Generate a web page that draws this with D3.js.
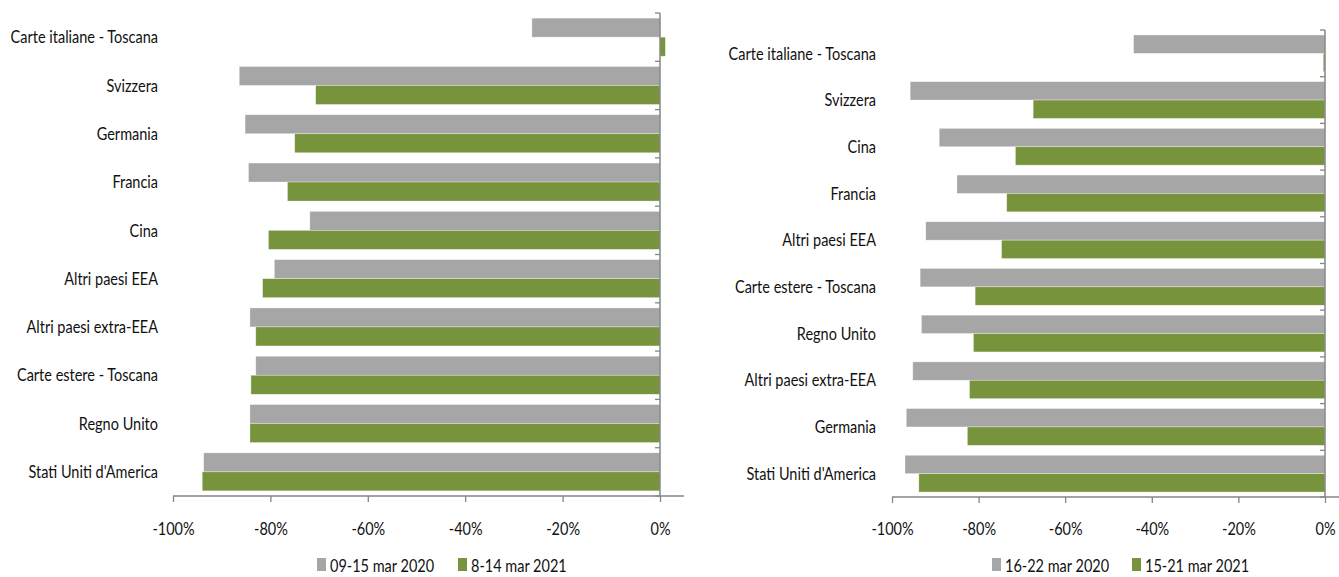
<!DOCTYPE html>
<html>
<head>
<meta charset="utf-8">
<script src="https://cdn.jsdelivr.net/npm/d3@7"></script>
<style>
  html, body { margin: 0; padding: 0; background: #fff; }
  svg { display: block; }
  text { font-family: Lato, "Open Sans", sans-serif; fill: #111; }
</style>
</head>
<body>
<script>
// ---------- DATA ----------
const leftCategories = ["Carte italiane - Toscana", "Svizzera", "Germania", "Francia", "Cina",
  "Altri paesi EEA", "Altri paesi extra-EEA", "Carte estere - Toscana", "Regno Unito", "Stati Uniti d'America"];
const left2020 = [-0.263, -0.864, -0.852, -0.845, -0.719, -0.792, -0.842, -0.830, -0.842, -0.937];
const left2021 = [0.011, -0.707, -0.750, -0.765, -0.804, -0.816, -0.830, -0.840, -0.842, -0.940];
const leftSeriesNames = ["09-15 mar 2020", "8-14 mar 2021"];

const rightCategories = ["Carte italiane - Toscana", "Svizzera", "Cina", "Francia", "Altri paesi EEA",
  "Carte estere - Toscana", "Regno Unito", "Altri paesi extra-EEA", "Germania", "Stati Uniti d'America"];
const right2020 = [-0.442, -0.958, -0.891, -0.850, -0.922, -0.935, -0.932, -0.952, -0.967, -0.970];
const right2021 = [-0.004, -0.674, -0.715, -0.735, -0.747, -0.808, -0.812, -0.821, -0.826, -0.938];
const rightSeriesNames = ["16-22 mar 2020", "15-21 mar 2021"];

const tickValues = [-1, -0.8, -0.6, -0.4, -0.2, 0];
const tickLabels = ["-100%", "-80%", "-60%", "-40%", "-20%", "0%"];

const colors = ["#a6a6a6", "#77933c"];
const axisColor = "#868686";
const FS = 14.5;      // font size
const VS = 1.22;      // vertical stretch of text (reference text is tall & narrow)

const W = 1339, H = 577;
const svg = d3.select("body").append("svg").attr("width", W).attr("height", H);

function panel(cfg) {
  const g = svg.append("g");
  const x = d3.scaleLinear().domain([-1, 0]).range([cfg.x0, cfg.x1]);
  const y = d3.scaleBand().domain(cfg.categories).range([cfg.top, cfg.bottom]).padding(0);
  const ys = d3.scaleBand().domain([0, 1]).range([0, y.bandwidth()]).paddingInner(0).paddingOuter(cfg.pad);
  const series = [cfg.s1, cfg.s2];

  series.forEach((vals, si) => {
    g.append("g").selectAll("rect").data(vals).enter().append("rect")
      .attr("x", d => Math.min(x(d), x(0)))
      .attr("width", d => Math.abs(x(d) - x(0)))
      .attr("y", (d, i) => y(cfg.categories[i]) + ys(si))
      .attr("height", ys.bandwidth())
      .attr("fill", colors[si])
      .attr("stroke", "rgba(255,255,255,0.55)")
      .attr("stroke-width", 0.6);
  });

  // x axis
  const xAxis = d3.axisBottom(x).tickValues(tickValues)
    .tickFormat((d, i) => tickLabels[i]).tickSize(6).tickSizeOuter(0);
  const ax = g.append("g").attr("transform", `translate(0,${cfg.bottom})`).call(xAxis);
  ax.select(".domain").remove();
  ax.selectAll(".tick line").attr("stroke", axisColor).attr("stroke-width", 1.3);
  ax.selectAll(".tick text").attr("y", 0).attr("dy", 0)
    .attr("transform", `translate(0,${cfg.tickLabelY - cfg.bottom}) scale(1,${VS})`)
    .style("font-size", FS + "px").style("font-family", null).attr("fill", "#111");
  g.append("line").attr("x1", x(-1)).attr("x2", x(0) + cfg.extend)
    .attr("y1", cfg.bottom).attr("y2", cfg.bottom)
    .attr("stroke", axisColor).attr("stroke-width", 1.5);

  // vertical axis at zero
  g.append("line").attr("x1", x(0)).attr("x2", x(0))
    .attr("y1", cfg.top).attr("y2", cfg.bottom)
    .attr("stroke", axisColor).attr("stroke-width", 1.5);
  const bounds = cfg.categories.map(c => y(c)).concat([cfg.bottom]);
  g.append("g").selectAll("line").data(bounds).enter().append("line")
    .attr("x1", x(0) - 5).attr("x2", x(0))
    .attr("y1", d => d).attr("y2", d => d)
    .attr("stroke", axisColor).attr("stroke-width", 1.3);

  // category labels
  g.append("g").selectAll("text").data(cfg.categories).enter().append("text")
    .attr("transform", d => `translate(${cfg.labelX},${y(d) + y.bandwidth() / 2}) scale(1,${VS})`)
    .attr("dy", "0.35em").attr("text-anchor", "end")
    .style("font-size", FS + "px").text(d => d);

  // legend
  const lg = g.append("g");
  cfg.legend.forEach((L, i) => {
    lg.append("rect").attr("x", L.x).attr("y", cfg.legendY - 14)
      .attr("width", 9).attr("height", 13).attr("fill", colors[i]);
    lg.append("text")
      .attr("transform", `translate(${L.x + 13},${cfg.legendY}) scale(1,${VS})`)
      .style("font-size", FS + "px").text(cfg.names[i]);
  });
}

panel({
  categories: leftCategories, s1: left2020, s2: left2021, names: leftSeriesNames,
  x0: 173, x1: 660, top: 13, bottom: 496, pad: 0.27, extend: 24, labelX: 158,
  tickLabelY: 535, legendY: 572, legend: [{x: 317}, {x: 458}]
});
panel({
  categories: rightCategories, s1: right2020, s2: right2021, names: rightSeriesNames,
  x0: 892, x1: 1325, top: 30, bottom: 497, pad: 0.27, extend: 30, labelX: 876,
  tickLabelY: 535, legendY: 572, legend: [{x: 992}, {x: 1132}]
});
</script>
</body>
</html>
